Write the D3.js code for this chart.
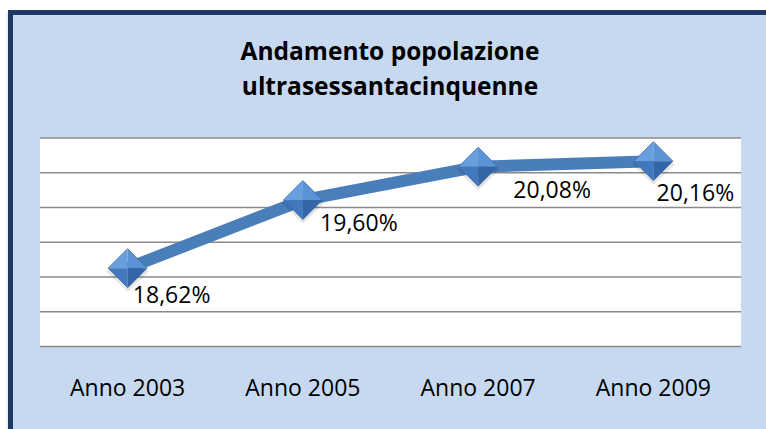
<!DOCTYPE html>
<html>
<head>
<meta charset="utf-8">
<script src="https://cdn.jsdelivr.net/npm/d3@7"></script>
<style>
  html, body { margin: 0; padding: 0; background: #ffffff; }
  svg { display: block; }
  text { font-family: "Open Sans", "Noto Sans", sans-serif; }
</style>
</head>
<body>
<svg id="chart" width="766" height="429"></svg>
<script>
// ---- data ----
const categories = ["Anno 2003", "Anno 2005", "Anno 2007", "Anno 2009"];
const values = [18.62, 19.60, 20.08, 20.16];
const valueLabels = ["18,62%", "19,60%", "20,08%", "20,16%"];
const yTicks = [17.5, 18.0, 18.5, 19.0, 19.5, 20.0, 20.5];
const titleLines = ["Andamento popolazione", "ultrasessantacinquenne"];
// label placement offsets (px) relative to each point
const labelDx = [44, 56, 74, 42];
const labelDy = [27, 23, 23, 32];

const W = 766, H = 429;
const svg = d3.select("#chart");

svg.append("rect").attr("x", 0).attr("y", 0).attr("width", W).attr("height", H).attr("fill", "#ffffff");
// faint shadow
svg.append("rect").attr("x", 6).attr("y", 12).attr("width", 800).attr("height", 450)
  .attr("fill", "#e4e4e4").attr("opacity", 0.6);
svg.append("rect").attr("x", 10.5).attr("y", 12.5).attr("width", 800).attr("height", 450)
  .attr("fill", "#c6d9f1").attr("stroke", "#1f3864").attr("stroke-width", 5);

const plot = { left: 40, right: 741, top: 137.5, bottom: 346 };

const x = d3.scaleBand().domain(categories).range([plot.left, plot.right]).padding(0);
const y = d3.scaleLinear().domain([17.5, 20.5]).range([plot.bottom, plot.top]);

svg.append("rect").attr("x", plot.left).attr("y", plot.top)
  .attr("width", plot.right - plot.left).attr("height", plot.bottom - plot.top)
  .attr("fill", "#ffffff");

// gridlines via axis
const yAxis = d3.axisLeft(y).tickValues(yTicks).tickSize(-(plot.right - plot.left)).tickFormat("");
const gy = svg.append("g").attr("transform", `translate(${plot.left},0)`).call(yAxis);
gy.select(".domain").remove();
gy.selectAll(".tick line").attr("stroke", "#8a8a8a").attr("stroke-width", 1.6);

// x axis labels
const xAxis = d3.axisBottom(x).tickSize(0).tickPadding(0);
const gx = svg.append("g").attr("transform", `translate(0,${plot.bottom})`).call(xAxis);
gx.select(".domain").remove();
gx.selectAll(".tick text")
  .attr("y", 50).attr("dy", 0)
  .attr("font-size", 23).attr("fill", "#000")
  .attr("font-family", "\"Open Sans\", sans-serif");

// title
svg.append("g").selectAll("text").data(titleLines).join("text")
  .attr("x", 390).attr("y", (d, i) => 60 + i * 35)
  .attr("text-anchor", "middle").attr("font-size", 24.5).attr("font-weight", "bold")
  .attr("fill", "#000").text(d => d);

// line
const pts = categories.map((c, i) => [x(c) + x.bandwidth() / 2, y(values[i])]);
svg.append("path").datum(pts)
  .attr("d", d3.line())
  .attr("fill", "none").attr("stroke", "#4a7ebb").attr("stroke-width", 12)
  .attr("stroke-linejoin", "round");

// diamond markers (beveled)
const s = 19.5;
const mk = svg.append("g").selectAll("g").data(pts).join("g")
  .attr("transform", d => `translate(${d[0]},${d[1]})`);
mk.append("path").attr("d", `M0,${-s + 3}L${s + 2},3L0,${s + 4}L${-s - 2},3Z`)
  .attr("fill", "#000").attr("opacity", 0.1);
const facets = [
  { d: `M0,${-s}L${s},0L0,0Z`, c: "#5b93d6" },
  { d: `M0,${-s}L${-s},0L0,0Z`, c: "#6a9fdf" },
  { d: `M${-s},0L0,${s}L0,0Z`, c: "#4278bd" },
  { d: `M${s},0L0,${s}L0,0Z`, c: "#3465a6" }
];
facets.forEach(f => {
  mk.append("path").attr("d", f.d).attr("fill", f.c);
});
mk.append("path").attr("d", `M0,${-s}L${s},0L0,${s}L${-s},0Z`)
  .attr("fill", "none").attr("stroke", "#3a6aa8").attr("stroke-width", 0.8);

// value labels
svg.append("g").selectAll("text").data(pts).join("text")
  .attr("x", (d, i) => d[0] + labelDx[i])
  .attr("y", (d, i) => d[1] + labelDy[i])
  .attr("dy", "0.36em")
  .attr("text-anchor", "middle").attr("font-size", 23).attr("fill", "#000")
  .text((d, i) => valueLabels[i]);
</script>
</body>
</html>
